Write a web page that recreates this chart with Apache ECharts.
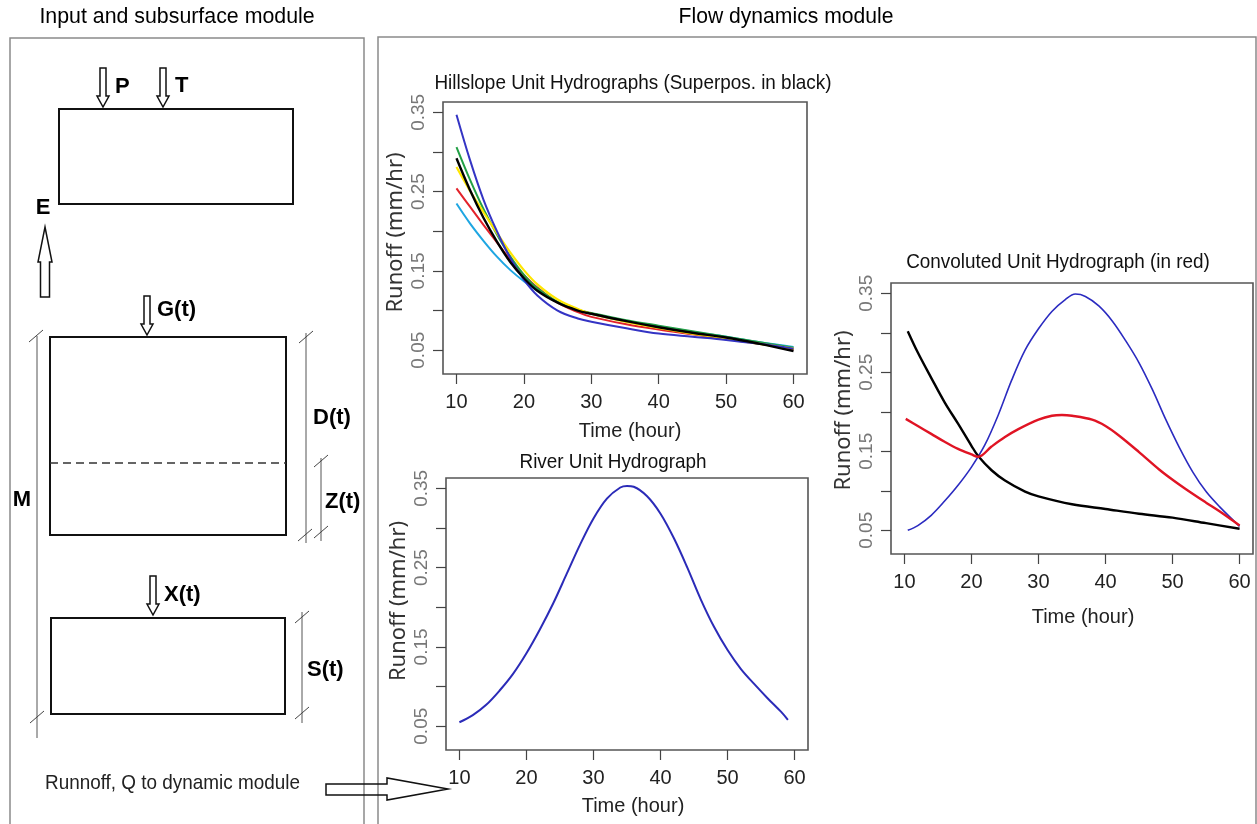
<!DOCTYPE html>
<html><head><meta charset="utf-8">
<script src="https://cdn.jsdelivr.net/npm/echarts@6/dist/echarts.min.js"></script>
<style>html,body{margin:0;padding:0;background:#fff}#c{width:1257px;height:824px}</style>
</head><body><div id="c"></div>
<script>
// ---------------- data ----------------
const hillTime   = [10,12,14,16,18,20,22,25,28,30,35,40,45,50,55,60];
const hillBlue   = [0.347,0.290,0.240,0.200,0.166,0.139,0.119,0.100,0.090,0.086,0.078,0.071,0.067,0.063,0.058,0.052];
const hillGreen  = [0.306,0.265,0.228,0.196,0.168,0.145,0.128,0.111,0.101,0.097,0.088,0.081,0.074,0.067,0.060,0.053];
const hillBlack  = [0.292,0.252,0.217,0.187,0.161,0.141,0.125,0.110,0.100,0.096,0.087,0.079,0.072,0.066,0.058,0.049];
const hillYellow = [0.281,0.251,0.224,0.198,0.173,0.151,0.133,0.114,0.102,0.096,0.086,0.078,0.071,0.065,0.058,0.052];
const hillRed    = [0.254,0.231,0.208,0.186,0.164,0.145,0.129,0.110,0.098,0.092,0.083,0.076,0.070,0.064,0.058,0.051];
const hillCyan   = [0.235,0.210,0.188,0.168,0.151,0.137,0.125,0.111,0.101,0.096,0.087,0.080,0.073,0.067,0.060,0.054];

const riverTime  = [10,12,14,16,18,20,22,24,26,28,30,32,34,35,36,38,40,42,44,46,48,50,52,54,56,58,59];
const riverBlue  = [0.055,0.064,0.077,0.095,0.116,0.142,0.172,0.205,0.242,0.279,0.312,0.337,0.351,0.353,0.352,0.340,0.318,0.287,0.250,0.210,0.175,0.146,0.122,0.103,0.085,0.068,0.058];

const convBlackTime = [10.5,12,14,16,18,20,21,23,25,28,30,35,40,45,50,55,60];
const convBlack     = [0.302,0.275,0.243,0.212,0.185,0.157,0.144,0.126,0.113,0.099,0.093,0.083,0.077,0.071,0.066,0.059,0.052];
const convBlueTime  = [10.5,12,14,16,18,20,22,24,26,28,30,32,34,35.5,37,39,41,43,45,47,49,51,53,55,57,60];
const convBlue      = [0.050,0.056,0.069,0.087,0.107,0.130,0.158,0.196,0.240,0.278,0.305,0.327,0.342,0.349,0.346,0.334,0.315,0.290,0.262,0.228,0.190,0.155,0.124,0.099,0.080,0.055];
const convRedTime   = [10.2,12,14,16,18,20,21,23,25,27,30,32,33.5,35,38,40,42,45,48,50,52,55,57,60];
const convRed       = [0.191,0.182,0.172,0.162,0.153,0.146,0.143,0.156,0.168,0.178,0.190,0.195,0.196,0.195,0.190,0.182,0.170,0.149,0.127,0.114,0.102,0.085,0.074,0.056];

const xTicks = [10,20,30,40,50,60];
const yTicks = [0.05,0.10,0.15,0.20,0.25,0.30,0.35];
const yLabels = [0.05,0.15,0.25,0.35];

const titles = ['Hillslope Unit Hydrographs (Superpos. in black)','River Unit Hydrograph','Convoluted Unit Hydrograph (in red)'];
const xName = 'Time (hour)';
const yName = 'Runoff (mm/hr)';

// ---------------- helpers ----------------
const zip = (xs, ys) => xs.map((x, i) => [x, ys[i]]);
const ARIAL = '"Liberation Sans", Arial, sans-serif';

const grids = [
  {left: 443, top: 102, width: 364, height: 272},
  {left: 446, top: 478, width: 362, height: 272},
  {left: 891, top: 283, width: 362, height: 271}
];
const xNamePad = [10, 12, 22];
const yNamePad = [11, 26, 16];
const xNameGap = [47, 46, 53];

function xAxisFor(i) {
  return {
    type: 'value', gridIndex: i, min: 8, max: 62,
    splitLine: {show: false}, axisLine: {show: false},
    axisTick: {show: true, length: 10, customValues: xTicks, lineStyle: {color: '#444', width: 1.2}},
    axisLabel: {customValues: xTicks, margin: 18, fontSize: 20, fontFamily: ARIAL, color: '#222'},
    name: xName, nameLocation: 'middle', nameGap: xNameGap[i],
    nameTextStyle: {fontSize: 20, fontFamily: ARIAL, color: '#222', padding: [0, 0, 0, xNamePad[i]]}
  };
}
function yAxisFor(i) {
  return {
    type: 'value', gridIndex: i, min: 0.02, max: 0.363,
    splitLine: {show: false}, axisLine: {show: false},
    axisTick: {show: true, length: 10, customValues: yTicks, lineStyle: {color: '#444', width: 1.2}},
    axisLabel: {customValues: yLabels, rotate: 90, margin: 15, fontSize: 19, fontFamily: ARIAL, color: '#777',
      formatter: v => v.toFixed(2)},
    name: yName, nameLocation: 'middle', nameGap: 36,
    nameTextStyle: {fontSize: 22, fontFamily: '"Noto Sans", sans-serif', color: '#333', padding: [0, 0, 0, yNamePad[i]]}
  };
}
function line(grid, data, color, width, z) {
  return {type: 'line', xAxisIndex: grid, yAxisIndex: grid, data: data, smooth: 0.35,
    showSymbol: false, symbol: 'none', lineStyle: {color: color, width: width}, z: z || 2, silent: true};
}

// ---------------- diagram graphics ----------------
const G = [];
const BLK = '#111';
function rect(x, y, w, h, stroke, lw) {
  G.push({type: 'rect', shape: {x, y, width: w, height: h}, style: {fill: 'none', stroke: stroke, lineWidth: lw}, z: 5});
}
function seg(x1, y1, x2, y2, stroke, lw, dash) {
  G.push({type: 'line', shape: {x1, y1, x2, y2}, style: {stroke: stroke, lineWidth: lw, lineDash: dash || null}, z: 5});
}
function slash(x, y) { seg(x - 7, y + 6, x + 7, y - 6, '#444', 1); }
function txt(t, x, y, font, align, color, sx) {
  G.push({type: 'text', x: x, y: y, z: 6, scaleX: sx || 1, style: {text: t, font: font, fill: color || '#000',
    textAlign: align || 'left', textVerticalAlign: 'middle', align: align || 'left', verticalAlign: 'middle'}});
}
function downArrow(cx, y0, y1) {
  const sw = 3, hw = 6, hl = 11;
  G.push({type: 'polygon', z: 5, shape: {points: [[cx - sw, y0], [cx + sw, y0], [cx + sw, y1 - hl], [cx + hw, y1 - hl], [cx, y1], [cx - hw, y1 - hl], [cx - sw, y1 - hl]]},
    style: {fill: '#fff', stroke: BLK, lineWidth: 1.5}});
}
function upArrow(cx, yTip, yBot) {
  const sw = 4.5, hw = 7, hl = 35;
  G.push({type: 'polygon', z: 5, shape: {points: [[cx, yTip], [cx + hw, yTip + hl], [cx + sw, yTip + hl], [cx + sw, yBot], [cx - sw, yBot], [cx - sw, yTip + hl], [cx - hw, yTip + hl]]},
    style: {fill: '#fff', stroke: BLK, lineWidth: 1.5}});
}

// panels
rect(10, 38, 354, 820, '#8a8a8a', 1.5);
rect(378, 37, 878, 820, '#8a8a8a', 1.5);
txt('Input and subsurface module', 177, 17, '22px ' + ARIAL, 'center', '#000', 0.97);
txt('Flow dynamics module', 786, 17, '22px ' + ARIAL, 'center', '#000', 0.96);

// boxes
rect(59, 109, 234, 95, BLK, 2);
rect(50, 337, 236, 198, BLK, 2);
seg(50, 463, 286, 463, '#333', 1.5, [8, 5]);
rect(51, 618, 234, 96, BLK, 2);

// arrows
downArrow(103, 68, 107);
downArrow(163, 68, 107);
downArrow(147, 296, 335);
downArrow(153, 576, 615);
upArrow(45, 227, 297);

const BOLD = 'bold 22px ' + ARIAL;
txt('P', 115, 87, BOLD);
txt('T', 175, 86, BOLD);
txt('E', 43, 208, BOLD, 'center');
txt('G(t)', 157, 310, BOLD);
txt('D(t)', 313, 418, BOLD);
txt('Z(t)', 325, 502, BOLD);
txt('X(t)', 164, 595, BOLD);
txt('S(t)', 307, 670, BOLD);
txt('M', 22, 500, BOLD, 'center');

// dimension lines
seg(37, 336, 37, 738, '#555', 1); slash(36, 336); slash(37, 717);
seg(306, 333, 306, 543, '#555', 1); slash(306, 337); slash(305, 535);
seg(321, 458, 321, 541, '#555', 1); slash(321, 461); slash(321, 532);
seg(302, 612, 302, 723, '#555', 1); slash(302, 617); slash(302, 713);

// runoff text + big arrow
txt('Runnoff, Q to dynamic module', 45, 783, '21px ' + ARIAL, 'left', '#222', 0.9);
G.push({type: 'polygon', z: 5, shape: {points: [[326, 784], [387, 784], [387, 778], [448, 789], [387, 800], [387, 795], [326, 795]]},
  style: {fill: 'none', stroke: BLK, lineWidth: 1.5}});

// chart titles
txt(titles[0], 633, 83, '21px ' + ARIAL, 'center', '#111', 0.9);
txt(titles[1], 613, 462, '21px ' + ARIAL, 'center', '#111', 0.9);
txt(titles[2], 1058, 262, '21px ' + ARIAL, 'center', '#111', 0.9);

// ---------------- chart ----------------
const chart = echarts.init(document.getElementById('c'), null, {renderer: 'canvas'});
chart.setOption({
  animation: false,
  backgroundColor: '#fff',
  grid: grids.map(g => Object.assign({show: true, borderColor: '#555', borderWidth: 1.6, backgroundColor: 'transparent', containLabel: false}, g)),
  xAxis: [0, 1, 2].map(xAxisFor),
  yAxis: [0, 1, 2].map(yAxisFor),
  series: [
    line(0, zip(hillTime, hillCyan), '#1ea6e2', 2),
    line(0, zip(hillTime, hillRed), '#e3222a', 2),
    line(0, zip(hillTime, hillGreen), '#23a046', 2),
    line(0, zip(hillTime, hillYellow), '#ffe600', 2.2),
    line(0, zip(hillTime, hillBlue), '#3434c4', 2),
    line(0, zip(hillTime, hillBlack), '#000000', 2.4, 3),
    line(1, zip(riverTime, riverBlue), '#2b2bb8', 2),
    line(2, zip(convBlueTime, convBlue), '#2b2bc0', 1.6),
    line(2, zip(convBlackTime, convBlack), '#000000', 2.4),
    line(2, zip(convRedTime, convRed), '#e01424', 2.4, 3)
  ],
  graphic: {elements: G}
});
</script></body></html>
